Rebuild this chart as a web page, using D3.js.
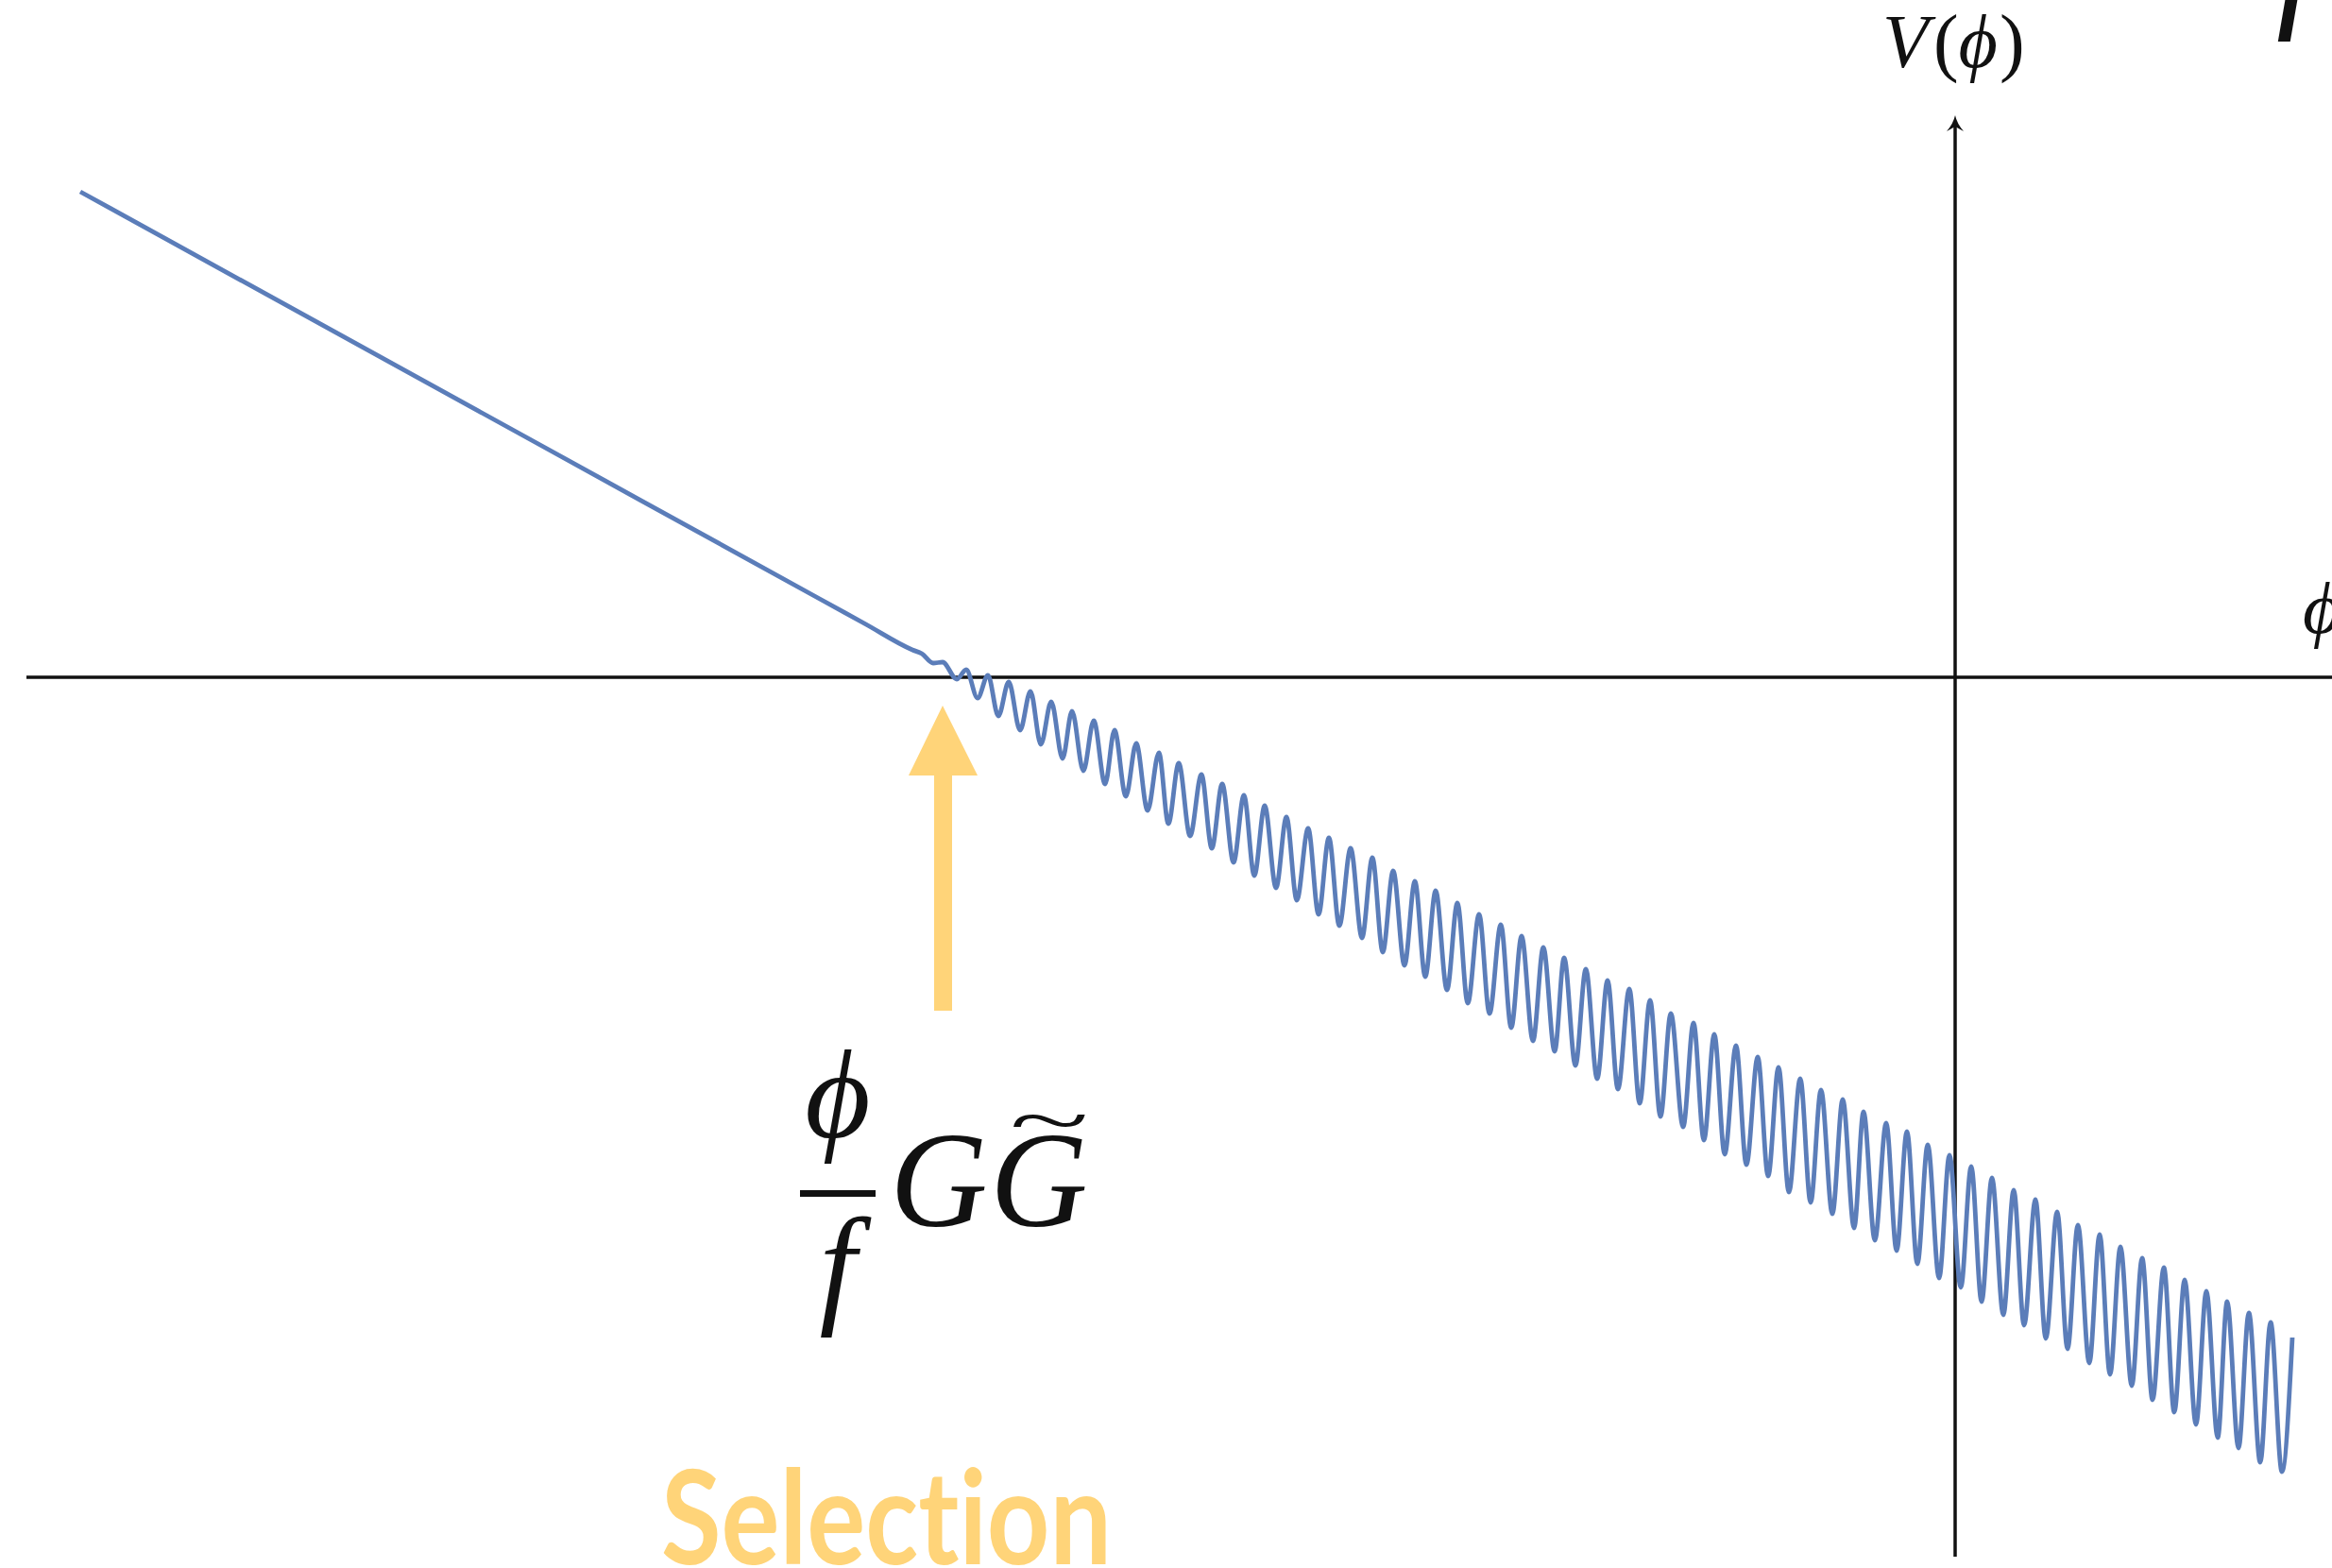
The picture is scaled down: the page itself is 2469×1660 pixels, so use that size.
<!DOCTYPE html>
<html>
<head>
<meta charset="utf-8">
<script src="https://cdn.jsdelivr.net/npm/d3@7"></script>
<style>
  html, body { margin: 0; padding: 0; background: #ffffff; }
  svg { display: block; }
  text { font-variant-ligatures: none; font-kerning: normal; }
</style>
</head>
<body>
<script>
// Potential V(phi): a linear slope that develops growing oscillations past the
// selection point. Knots are points on the straight branch followed by the
// turning points of the curve (phi, V).
const phiKnots = [
  -19.85, -15.00, -12.04, -11.54, -11.04, -10.94, -10.82, -10.72, -10.57, -10.47,
  -10.35, -10.24, -10.13, -10.02, -9.90, -9.79, -9.68, -9.57, -9.45, -9.35, -9.23, -9.12,
  -9.00, -8.90, -8.78, -8.67, -8.55, -8.43, -8.33, -8.22, -8.10, -7.98, -7.87, -7.76,
  -7.64, -7.53, -7.42, -7.31, -7.19, -7.08, -6.97, -6.85, -6.74, -6.63, -6.52, -6.40,
  -6.28, -6.17, -6.06, -5.95, -5.83, -5.72, -5.61, -5.50, -5.38, -5.27, -5.16, -5.04,
  -4.93, -4.81, -4.70, -4.59, -4.47, -4.36, -4.24, -4.14,
  -4.02, -3.91, -3.79, -3.68, -3.57, -3.45, -3.34, -3.23, -3.12, -3.01, -2.88, -2.77,
  -2.66, -2.55, -2.44, -2.32, -2.21, -2.09, -1.98, -1.87, -1.76, -1.64, -1.53, -1.42,
  -1.30, -1.19, -1.07, -0.97, -0.85, -0.73, -0.62, -0.51,
  -0.40, -0.29, -0.17, -0.06, 0.06, 0.17, 0.28, 0.39, 0.51, 0.62, 0.73, 0.85,
  0.96, 1.08, 1.19, 1.30, 1.42, 1.53, 1.64, 1.75, 1.87, 1.98, 2.09, 2.21,
  2.32, 2.43, 2.55, 2.66, 2.78, 2.88, 3.00, 3.11, 3.23, 3.34, 3.46, 3.57
];
const vKnots = [
  5.14, 2.47, 0.84, 0.565, 0.29, 0.25, 0.15, 0.16, -0.02, 0.08,
  -0.22, 0.02, -0.41, -0.05, -0.56, -0.15, -0.71, -0.26, -0.86, -0.36, -0.99, -0.46,
  -1.13, -0.56, -1.26, -0.70, -1.41, -0.80, -1.55, -0.91, -1.68, -1.03, -1.81, -1.13,
  -1.96, -1.25, -2.10, -1.36, -2.23, -1.48, -2.36, -1.60, -2.51, -1.70, -2.63, -1.81,
  -2.76, -1.91, -2.91, -2.05, -3.05, -2.16, -3.17, -2.26, -3.31, -2.39, -3.45, -2.51,
  -3.56, -2.62, -3.71, -2.74, -3.85, -2.86, -3.96, -2.97,
  -4.11, -3.09, -4.25, -3.21, -4.36, -3.30, -4.51, -3.42, -4.65, -3.56, -4.76, -3.66,
  -4.90, -3.78, -5.05, -3.90, -5.16, -4.02, -5.28, -4.13, -5.45, -4.25, -5.56, -4.37,
  -5.68, -4.47, -5.83, -4.60, -5.96, -4.72, -6.07, -4.81,
  -6.21, -4.95, -6.36, -5.06, -6.46, -5.18, -6.61, -5.30, -6.75, -5.43, -6.86, -5.53,
  -7.00, -5.66, -7.11, -5.80, -7.26, -5.90, -7.38, -6.03, -7.50, -6.15, -7.65, -6.25,
  -7.78, -6.38, -7.91, -6.50, -8.05, -6.61, -8.16, -6.73, -8.31, -6.83, -8.41, -6.99
];

// Axis extents and the marked selection point, in (phi, V) units
const phiAxisRange = [-20.42, 4.2];
const vAxisRange = [-9.31, 5.95];
const selectionPhi = -10.72;

// Text labels
const axisLabelV = ["V", "(", "\u03D5", ")"];
const axisLabelPhi = "\u03D5";
const cornerLabel = "f";
const selectionLabel = "Selection";

const W = 2469, H = 1660;
const svg = d3.select("body").append("svg")
  .attr("width", W).attr("height", H)
  .attr("viewBox", `0 0 ${W} ${H}`);

const x = d3.scaleLinear().domain([-20.70, 3.99]).range([0, W]);
const y = d3.scaleLinear().domain([-9.43, 7.17]).range([H, 0]);

const mathFont = "'Liberation Serif', 'DejaVu Serif', serif";
const gold = "#FFD479";
const blue = "#5B7DB9";

// ---- axes ----
svg.append("line")
  .attr("x1", x(phiAxisRange[0])).attr("x2", x(phiAxisRange[1]))
  .attr("y1", y(0)).attr("y2", y(0))
  .attr("stroke", "#111").attr("stroke-width", 3.5);

svg.append("line")
  .attr("x1", x(0)).attr("x2", x(0))
  .attr("y1", y(vAxisRange[0])).attr("y2", y(vAxisRange[1]) + 6)
  .attr("stroke", "#111").attr("stroke-width", 3.5);

// arrow head on the V axis
const tipX = x(0), tipY = y(vAxisRange[1]);
svg.append("path")
  .attr("d", `M${tipX},${tipY} Q${tipX + 2},${tipY + 9} ${tipX + 9},${tipY + 17}
              L${tipX},${tipY + 12} L${tipX - 9},${tipY + 17}
              Q${tipX - 2},${tipY + 9} ${tipX},${tipY} Z`)
  .attr("fill", "#111");

// ---- potential curve ----
const pts = d3.zip(phiKnots, vKnots);
const line = d3.line()
  .x(d => x(d[0]))
  .y(d => y(d[1]))
  .curve(d3.curveMonotoneX);

svg.append("path")
  .datum(pts)
  .attr("d", line)
  .attr("fill", "none")
  .attr("stroke", blue)
  .attr("stroke-width", 4.8)
  .attr("stroke-linejoin", "round");

// ---- axis labels ----
const vLab = svg.append("text")
  .attr("x", 1993).attr("y", 71)
  .attr("font-family", mathFont)
  .attr("font-size", 80)
  .attr("fill", "#111");
axisLabelV.forEach((s, i) => {
  vLab.append("tspan")
    .attr("dx", i === 1 ? 5 : (i === 3 ? 2 : 0))
    .attr("font-style", (i === 0 || i === 2) ? "italic" : "normal")
    .text(s);
});

svg.append("text")
  .attr("x", 2438).attr("y", 670)
  .attr("font-family", mathFont)
  .attr("font-style", "italic")
  .attr("font-size", 78)
  .attr("fill", "#111")
  .text(axisLabelPhi);

svg.append("text")
  .attr("x", 2410).attr("y", 10)
  .attr("font-family", mathFont)
  .attr("font-style", "italic")
  .attr("font-size", 160)
  .attr("fill", "#111")
  .text(cornerLabel);

// ---- selection arrow ----
const ax = x(selectionPhi);
const arrowTop = 747, arrowBase = 821, arrowBottom = 1070;
svg.append("path")
  .attr("d", `M${ax},${arrowTop} L${ax + 37},${arrowBase} L${ax + 10},${arrowBase}
              L${ax + 10},${arrowBottom} L${ax - 9},${arrowBottom} L${ax - 9},${arrowBase}
              L${ax - 36},${arrowBase} Z`)
  .attr("fill", gold);

// ---- formula: (phi / f) G G~ ----
const fx = 887;
svg.append("text")
  .attr("x", fx).attr("y", 1204)
  .attr("text-anchor", "middle")
  .attr("font-family", mathFont).attr("font-style", "italic")
  .attr("font-size", 134).attr("fill", "#111")
  .text("\u03D5");
svg.append("rect")
  .attr("x", 847).attr("y", 1260).attr("width", 80).attr("height", 7)
  .attr("fill", "#111");
svg.append("text")
  .attr("x", fx).attr("y", 1386)
  .attr("text-anchor", "middle")
  .attr("font-family", mathFont).attr("font-style", "italic")
  .attr("font-size", 140).attr("fill", "#111")
  .text("f");
svg.append("text")
  .attr("x", 994).attr("y", 1298)
  .attr("text-anchor", "middle")
  .attr("font-family", mathFont).attr("font-style", "italic")
  .attr("font-size", 143).attr("fill", "#111")
  .text("G");
svg.append("text")
  .attr("x", 1100).attr("y", 1298)
  .attr("text-anchor", "middle")
  .attr("font-family", mathFont).attr("font-style", "italic")
  .attr("font-size", 143).attr("fill", "#111")
  .text("G");
// wide tilde accent over the second G
svg.append("text")
  .attr("transform", "translate(1111,1212) scale(2.6,1.3)")
  .attr("text-anchor", "middle")
  .attr("font-family", mathFont)
  .attr("font-size", 60).attr("fill", "#111")
  .text("~");

// ---- selection caption ----
svg.append("text")
  .attr("x", 700).attr("y", 1656)
  .attr("font-family", "Lato, 'Open Sans', sans-serif")
  .attr("font-weight", 700)
  .attr("font-size", 138)
  .attr("textLength", 477)
  .attr("lengthAdjust", "spacingAndGlyphs")
  .attr("fill", gold)
  .text(selectionLabel);
</script>
</body>
</html>
